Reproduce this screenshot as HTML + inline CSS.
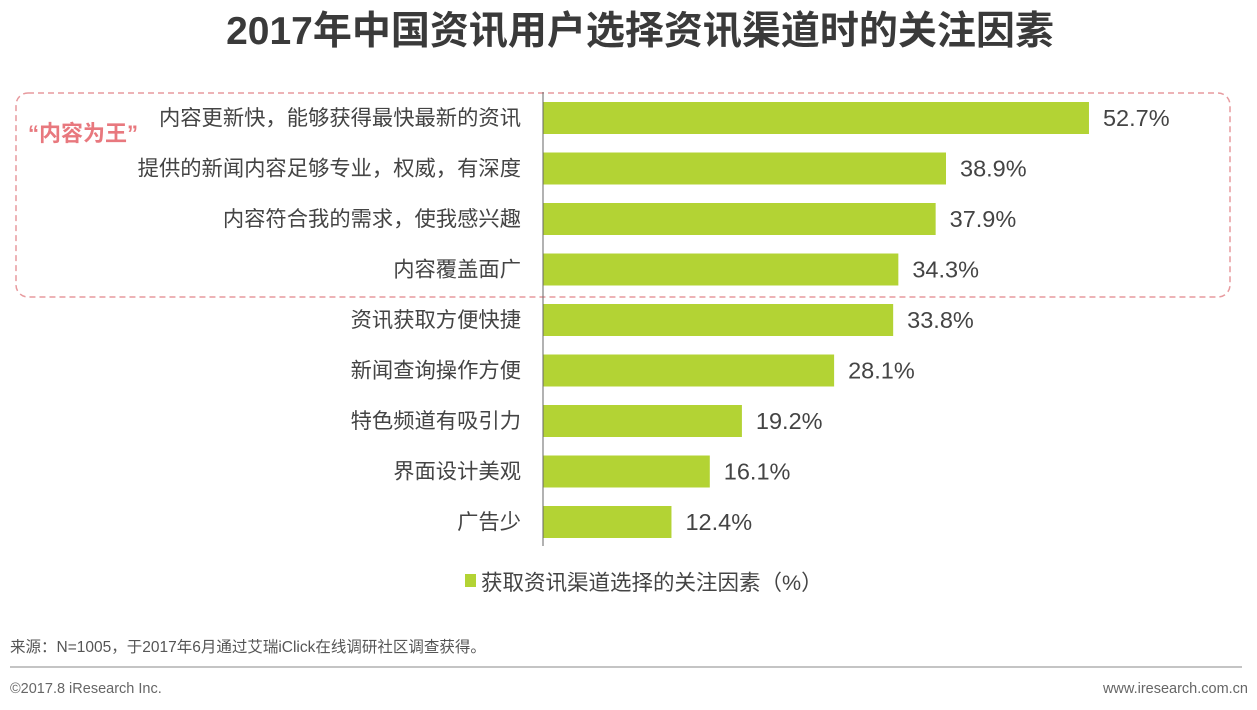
<!DOCTYPE html>
<html><head><meta charset="utf-8">
<style>
body{margin:0;width:1257px;height:705px;background:#fff;overflow:hidden;font-family:"Liberation Sans","Noto Sans CJK SC",sans-serif;}
</style></head>
<body>
<svg id="chart" width="1257" height="705" xmlns="http://www.w3.org/2000/svg" style="font-family:'Liberation Sans','Noto Sans CJK SC',sans-serif">
<text x="640" y="44" text-anchor="middle" font-size="39" font-weight="bold" fill="#3a3a3a">2017年中国资讯用户选择资讯渠道时的关注因素</text>
<rect x="16" y="93" width="1214" height="204" rx="12" fill="none" stroke="#e79a9e" stroke-width="1.5" stroke-dasharray="6,4"/>
<text x="28" y="141" font-size="22" font-weight="bold" fill="#e8787e">“内容为王”</text>
<g id="bars"></g>
<line x1="543" y1="92" x2="543" y2="546" stroke="#666" stroke-width="1"/>
<rect x="465" y="574" width="11" height="13" fill="#b3d334"/>
<text x="481" y="590" font-size="21.5" fill="#444">获取资讯渠道选择的关注因素（%）</text>
<text x="10" y="652" font-size="15.5" fill="#555">来源：N=1005，于2017年6月通过艾瑞iClick在线调研社区调查获得。</text>
<line x1="10" y1="667" x2="1242" y2="667" stroke="#888" stroke-width="1"/>
<text x="10" y="693" font-size="14.5" fill="#666">©2017.8 iResearch Inc.</text>
<text x="1248" y="693" text-anchor="end" font-size="14.5" fill="#666">www.iresearch.com.cn</text>
</svg>
<script>
const categories=["内容更新快，能够获得最快最新的资讯","提供的新闻内容足够专业，权威，有深度","内容符合我的需求，使我感兴趣","内容覆盖面广","资讯获取方便快捷","新闻查询操作方便","特色频道有吸引力","界面设计美观","广告少"];
const values=[52.7,38.9,37.9,34.3,33.8,28.1,19.2,16.1,12.4];
const valueLabels=["52.7%","38.9%","37.9%","34.3%","33.8%","28.1%","19.2%","16.1%","12.4%"];
const x0=543, pxPer=10.36, yTop=118, step=50.5, bh=32;
const xs=v=>x0+v*pxPer;
const ys=i=>yTop+i*step;
const g=document.getElementById('bars');
const NS="http://www.w3.org/2000/svg";
categories.forEach((c,i)=>{
  const r=document.createElementNS(NS,'rect');
  
  
  r.setAttribute('x',x0);r.setAttribute('y',ys(i)-bh/2);
  r.setAttribute('width',xs(values[i])-x0);r.setAttribute('height',bh);
  r.setAttribute('fill','#b3d334');g.appendChild(r);
  const t=document.createElementNS(NS,'text');
  
  
  t.setAttribute('x',521);t.setAttribute('y',ys(i)+7);
  t.setAttribute('text-anchor','end');t.setAttribute('font-size','21.3');t.setAttribute('fill','#444');
  t.textContent=c;g.appendChild(t);
  const v=document.createElementNS(NS,'text');
  
  
  v.setAttribute('x',xs(values[i])+14);v.setAttribute('y',ys(i)+8);
  v.setAttribute('font-size','23.5');v.setAttribute('fill','#444');
  v.textContent=valueLabels[i];g.appendChild(v);
});
</script>
</body></html>
